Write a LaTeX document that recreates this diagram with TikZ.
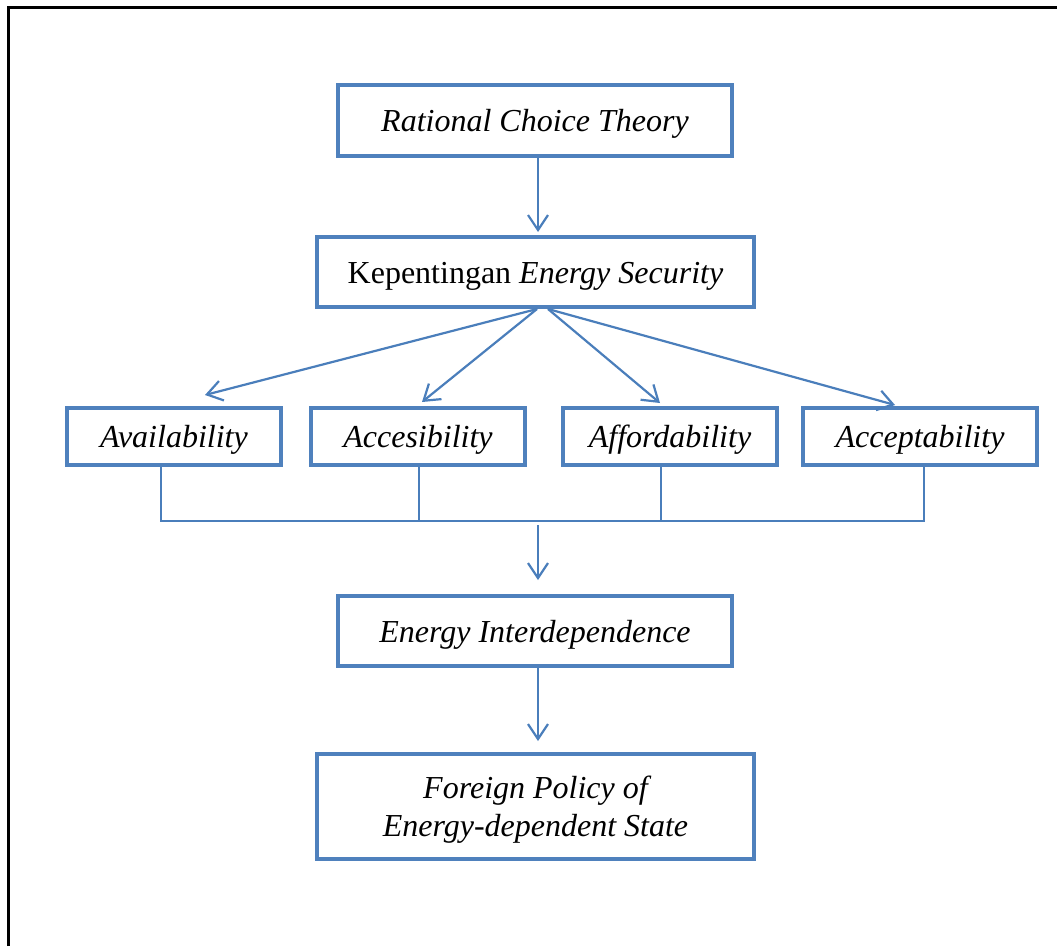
\documentclass[tikz,border=0pt]{standalone}
\usepackage{fontspec}
\setmainfont{Liberation Serif}
\usepackage{xcolor}
\usepackage{tikz}
\usetikzlibrary{arrows.meta,calc,positioning}
\definecolor{frame}{HTML}{4F81BD}
\definecolor{link}{HTML}{4A7EBB}

\begin{document}
\begin{tikzpicture}[x=1pt,y=-1pt,
  box/.style={draw=frame,line width=4pt,align=center,inner sep=0pt,
    text height=22pt,text depth=0pt,font=\fontsize{32}{38}\selectfont},
  arr/.style={draw=link,line width=2.2pt,-{Straight Barb[length=15pt,width=20pt,line width=2.2pt]}},
  bracket/.style={draw=link,line width=1.5pt}]
  \useasboundingbox (0,0) rectangle (1057,946);
  \draw[line width=3pt,line join=miter] (8,946) -- (8,7) -- (1057,7);
  \node[box,minimum width=394pt,minimum height=71pt] (rct) at (535,120.5) {\itshape Rational Choice Theory};
  \node[box,minimum width=437pt,minimum height=70pt] (kes) at (535.5,272) {Kepentingan \textit{Energy Security}};
  \node[box,minimum width=214pt,minimum height=57pt] (av) at (174,436.5) {\itshape Availability};
  \node[box,minimum width=214pt,minimum height=57pt] (ac) at (418,436.5) {\itshape Accesibility};
  \node[box,minimum width=214pt,minimum height=57pt] (af) at (670,436.5) {\itshape Affordability};
  \node[box,minimum width=234pt,minimum height=57pt] (ap) at (920,436.5) {\itshape Acceptability};
  \node[box,minimum width=394pt,minimum height=70pt] (ei) at (535,631) {\itshape Energy Interdependence};
  \node[box,text height=60pt,minimum width=437pt,minimum height=105pt] (fp) at (535.5,806.5) {\itshape Foreign Policy of\\ \itshape Energy-dependent State};
  \coordinate (bar) at (538,521);
  % arrows
  \draw[arr] ([xshift=3pt]rct.south) -- ([xshift=2.5pt,yshift=3pt]kes.north);
  \draw[arr] ([xshift=1.5pt]kes.south) -- ([xshift=31pt,yshift=11pt]av.north);
  \draw[arr] ([xshift=1.5pt]kes.south) -- ([xshift=4pt,yshift=4pt]ac.north);
  \draw[arr] ([xshift=12.5pt]kes.south) -- ([xshift=-10pt,yshift=3pt]af.north);
  \draw[arr] ([xshift=12.5pt]kes.south) -- ([xshift=-25pt,yshift=1pt]ap.north);
  % joining bracket
  \draw[bracket] ([xshift=-13pt]av.south) -- ([xshift=-13pt]av.south |- bar)
    -- ([xshift=4pt]ap.south |- bar) -- ([xshift=4pt]ap.south);
  \draw[bracket] ([xshift=1pt]ac.south) -- ([xshift=1pt]ac.south |- bar);
  \draw[bracket] ([xshift=-9pt]af.south) -- ([xshift=-9pt]af.south |- bar);
  \draw[arr] ([yshift=-4pt]bar) -- ([xshift=3pt,yshift=14pt]ei.north);
  \draw[arr] ([xshift=3pt]ei.south) -- ([xshift=2.5pt,yshift=11pt]fp.north);
\end{tikzpicture}
\end{document}
